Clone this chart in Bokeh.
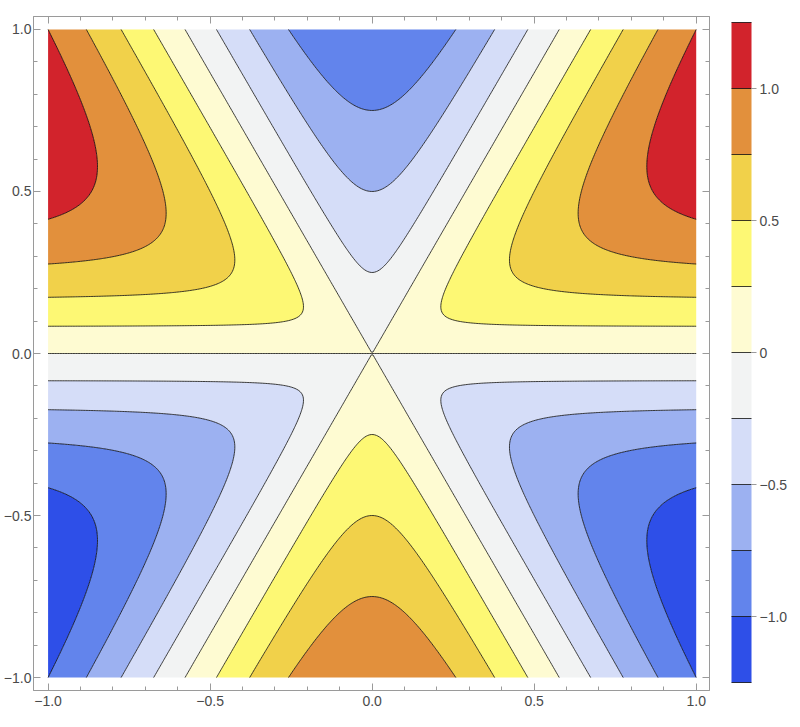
import numpy as np
from bokeh.plotting import figure
from bokeh.models import LinearAxis, FixedTicker, Range1d
from bokeh.embed import file_html
from bokeh.resources import INLINE

# Contour levels and band colours (from the legend)
levels = [-1.25, -1.0, -0.75, -0.5, -0.25, 0.0, 0.25, 0.5, 0.75, 1.0, 1.25]
band_colors = ["#2e4fe8", "#6284ec", "#9cb1f1", "#d5ddf8", "#f2f3f3",
               "#fefbd2", "#fdf874", "#f1d14a", "#e2903c", "#d2232c"]

# Axis ticks
axis_ticks = [-1.0, -0.5, 0.0, 0.5, 1.0]
axis_tick_labels = ["\u22121.0", "\u22120.5", "0.0", "0.5", "1.0"]
axis_minor_ticks = [-1.0, -0.9, -0.8, -0.7, -0.6, -0.5, -0.4, -0.3, -0.2, -0.1, 0.0,
                    0.1, 0.2, 0.3, 0.4, 0.5, 0.6, 0.7, 0.8, 0.9, 1.0]
bar_ticks = [-1.0, -0.5, 0.0, 0.5, 1.0]
bar_tick_labels = ["\u22121.0", "\u22120.5", "0", "0.5", "1.0"]

# Field: monkey-saddle-like surface r*sin(3*theta)
# (even grid size so that no grid row lies exactly on the zero line)
n = 400
xs = np.linspace(-1.0, 1.0, n)
X, Y = np.meshgrid(xs, xs)
R2 = X**2 + Y**2
Z = np.where(R2 > 0, Y * (3 * X**2 - Y**2) / np.where(R2 > 0, R2, 1.0), 0.0)

FONT = "Liberation Sans"
TXT = "#4a4a4a"
AX = "#9a9a9a"

p = figure(frame_width=676, frame_height=674,
           x_range=Range1d(-1.045, 1.041), y_range=Range1d(-1.04, 1.04),
           output_backend="svg", toolbar_location=None,
           min_border_left=0, min_border_top=16, min_border_bottom=37, min_border_right=40,
           x_axis_location=None, y_axis_location=None)
p.grid.visible = False
p.outline_line_color = AX
p.background_fill_color = "white"

r = p.contour(X, Y, Z, levels, fill_color=band_colors,
              line_color="#000000", line_width=0.9, line_alpha=0.85)

def style_axis(ax, labels=True, standoff=5):
    ax.ticker = FixedTicker(ticks=axis_ticks, minor_ticks=axis_minor_ticks)
    ax.axis_line_color = AX
    ax.major_tick_line_color = AX
    ax.minor_tick_line_color = AX
    ax.major_tick_in = 7
    ax.major_tick_out = 0
    ax.minor_tick_in = 4
    ax.minor_tick_out = 0
    if labels:
        ax.major_label_overrides = {t: l for t, l in zip(axis_ticks, axis_tick_labels)}
        ax.major_label_text_font = FONT
        ax.major_label_text_font_size = "14px"
        ax.major_label_text_color = TXT
        ax.major_label_standoff = standoff
    else:
        ax.major_label_overrides = {t: "" for t in axis_ticks}
        ax.major_label_text_font_size = "1px"
        ax.major_label_standoff = 0

bottom = LinearAxis(); style_axis(bottom); p.add_layout(bottom, "below")
left = LinearAxis(); style_axis(left, standoff=2); p.add_layout(left, "left")
top = LinearAxis(); style_axis(top, labels=False); p.add_layout(top, "above")
right = LinearAxis(); style_axis(right, labels=False); p.add_layout(right, "right")

cb = r.construct_color_bar(width=20, height=660,
                           major_label_overrides={t: l for t, l in zip(bar_ticks, bar_tick_labels)},
                           major_label_text_font=FONT,
                           major_label_text_font_size="14px",
                           major_label_text_color=TXT,
                           major_tick_line_color=AX,
                           major_tick_in=0, major_tick_out=5,
                           label_standoff=3,
                           bar_line_color=None,
                           padding=0, margin=0,
                           location=(22, 8))
cb.ticker = FixedTicker(ticks=bar_ticks)
p.add_layout(cb, "right")

open("out.html", "w").write(file_html(p, INLINE))
